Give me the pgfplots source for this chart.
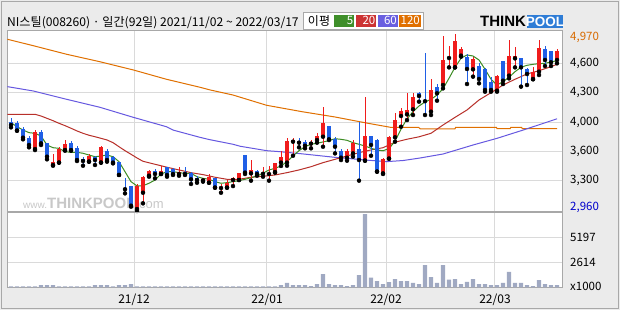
\documentclass[border=0pt]{standalone}
\usepackage{pgfplots}
\pgfplotsset{compat=1.18}
\usepackage{pgfplotstable}
\usepackage{fontspec}
\setmainfont{Noto Sans CJK KR}
\newfontfamily\logofont{Liberation Sans}
\definecolor{bgc}{HTML}{EBEBEB}
\definecolor{framec}{HTML}{A8A8A8}
\definecolor{gridc}{HTML}{DADADA}
\definecolor{cUp}{HTML}{F01C1C}
\definecolor{cDn}{HTML}{1F5FE6}
\definecolor{maA}{HTML}{3C8C23}
\definecolor{maB}{HTML}{B8302A}
\definecolor{maC}{HTML}{6658E0}
\definecolor{maD}{HTML}{E07000}
\definecolor{volc}{HTML}{A0A9C2}
\definecolor{lgA}{HTML}{3F8F2A}
\definecolor{lgB}{HTML}{CC3333}
\definecolor{lgC}{HTML}{6A5FE0}
\definecolor{lgD}{HTML}{E07000}
\definecolor{tpblue}{HTML}{2F7DD6}
\definecolor{lblor}{HTML}{D86A00}
\definecolor{lblbl}{HTML}{0000CC}
\definecolor{wmc}{HTML}{C8C8C8}

\pgfplotstableread{
i O H L C
4 3659 3870 3648 3852
7 3482 3604 3474 3511
8 3508 3685 3508 3659
9 3648 3759 3641 3715
13 3519 3604 3519 3582
15 3508 3693 3508 3678
21 2993 3271 2971 3252
22 3174 3363 3056 3352
23 3363 3426 3352 3419
25 3382 3471 3382 3415
28 3382 3456 3363 3400
32 3312 3334 3297 3326
33 3285 3382 3285 3352
35 3226 3267 3174 3241
36 3230 3315 3230 3278
37 3315 3352 3248 3341
38 3315 3397 3315 3389
40 3389 3537 3308 3426
42 3384 3463 3352 3397
43 3382 3471 3308 3397
44 3404 3508 3397 3500
45 3508 3641 3471 3571
46 3508 3778 3474 3748
47 3741 3778 3585 3759
50 3719 3759 3667 3741
51 3759 3833 3730 3804
52 3796 4122 3685 3944
56 3563 3656 3530 3637
57 3611 3759 3574 3722
59 3530 4233 3530 3804
62 3389 3556 3382 3548
63 3552 3804 3552 3796
64 3789 4063 3741 3981
65 4026 4111 3907 4081
66 4044 4278 3981 4093
67 4100 4285 4037 4241
70 4074 4433 4037 4315
72 4370 4914 4333 4648
73 4670 4803 4566 4685
74 4566 4937 4566 4859
75 4696 4796 4685 4770
77 4544 4685 4463 4659
81 4307 4481 4296 4470
83 4474 4870 4444 4692
84 4666 4796 4566 4692
87 4437 4566 4433 4511
88 4518 4870 4481 4777
91 4648 4766 4611 4748
}\upc

\pgfplotstableread{
i O H L C
0 3963 4000 3900 3926
1 3944 3974 3863 3863
2 3878 3900 3767 3785
3 3785 3804 3678 3704
5 3852 3870 3704 3722
6 3722 3730 3545 3574
10 3730 3748 3641 3648
11 3670 3696 3526 3537
12 3545 3574 3474 3526
14 3574 3585 3482 3537
16 3641 3656 3519 3537
17 3567 3582 3500 3508
18 3511 3519 3371 3371
19 3226 3334 3167 3213
20 3252 3252 3019 3030
24 3419 3434 3334 3382
26 3456 3463 3352 3371
27 3434 3445 3371 3382
29 3408 3463 3371 3382
30 3389 3400 3271 3323
31 3334 3363 3285 3315
34 3337 3337 3230 3230
39 3589 3589 3382 3397
41 3419 3426 3363 3382
48 3748 3778 3678 3730
49 3741 3759 3667 3696
53 3915 3915 3759 3767
54 3767 3796 3611 3685
55 3641 3656 3537 3563
58 3659 3956 3308 3537
60 3804 3804 3585 3704
61 3759 3767 3408 3408
68 4285 4296 4185 4248
69 4207 4729 4037 4190
71 4352 4381 4196 4278
76 4677 4715 4381 4548
78 4585 4611 4389 4437
79 4548 4555 4296 4315
80 4407 4463 4296 4315
82 4640 4640 4381 4418
85 4666 4666 4352 4566
86 4544 4555 4370 4492
89 4770 4803 4581 4648
90 4751 4751 4581 4622
}\dnc

\pgfplotstableread{
i v
0 3952
1 3907
2 3871
3 3841
4 3834
5 3804
6 3704
7 3674
8 3667
9 3630
10 3623
11 3623
12 3612
13 3593
14 3574
15 3582
16 3593
17 3574
18 3519
19 3408
20 3297
21 3249
22 3252
23 3279
24 3315
25 3382
26 3408
27 3408
28 3397
29 3389
30 3389
31 3352
32 3334
33 3323
34 3297
35 3279
36 3286
37 3297
38 3308
39 3323
40 3341
41 3360
42 3390
43 3427
44 3445
45 3471
46 3519
47 3582
48 3641
49 3686
50 3712
51 3723
52 3738
53 3752
54 3774
55 3767
56 3756
57 3730
58 3712
59 3693
60 3667
61 3649
62 3640
63 3665
64 3745
65 3880
66 3995
67 4074
68 4137
69 4182
70 4211
71 4259
72 4329
73 4445
74 4567
75 4667
76 4704
77 4692
78 4648
79 4545
80 4434
81 4370
82 4407
83 4456
84 4518
85 4567
86 4589
87 4600
88 4607
89 4611
90 4626
91 4641
}\mafive

\pgfplotstableread{
i v
-0.6 4045
4 4045
5 4026
6 4000
7 3974
8 3945
9 3919
10 3890
11 3860
12 3834
13 3812
14 3796
15 3778
16 3760
17 3730
18 3685
19 3641
20 3601
21 3560
22 3523
24 3490
26 3457
28 3427
30 3397
32 3375
34 3346
36 3323
38 3323
40 3346
42 3357
44 3371
46 3397
48 3427
50 3463
52 3508
54 3545
56 3582
58 3619
60 3649
62 3674
64 3735
66 3768
68 3795
70 3834
72 3926
74 4011
76 4093
78 4204
80 4285
82 4370
84 4434
86 4493
88 4529
90 4574
91 4600
}\matwenty

\pgfplotstableread{
i v
-0.6 4352
3.7 4304
9.3 4211
14.8 4123
20.4 4011
25.9 3907
27 3870
31.5 3789
33 3765
37 3712
38.2 3690
42.6 3641
44.8 3630
48.5 3606
54 3567
59.5 3535
62.6 3519
65.4 3532
68.2 3560
72 3604
77 3704
81 3778
85.4 3871
91 3995
}\masixty

\pgfplotstableread{
i v
-0.6 4878
3.7 4807
9.3 4711
14.8 4629
20.4 4537
25.9 4434
31.5 4345
33.2 4315
37 4259
42.6 4145
48.5 4074
54 4015
59.5 3945
63.2 3901
67.9 3901
68.2 3884
74 3884
74.1 3901
80.9 3901
81 3886
83.2 3886
83.3 3901
85.1 3901
85.2 3886
91 3886
}\mahund

\pgfplotstableread{
i v
0 150
1 150
2 150
3 150
4 150
5 270
6 270
7 270
8 150
9 150
10 150
11 150
12 150
13 150
14 270
15 270
16 270
17 150
18 270
19 270
20 373
21 150
22 150
23 150
24 150
25 150
26 150
27 150
28 150
29 150
30 150
31 150
32 150
33 150
34 150
35 150
36 150
37 150
38 150
39 150
40 150
41 150
42 150
43 150
44 150
45 270
46 510
47 270
48 270
49 270
50 168
51 373
52 1399
53 373
54 270
55 270
56 168
57 270
58 1296
59 7555
60 1057
61 681
62 373
63 578
64 886
65 681
66 681
67 510
68 373
69 2322
70 1091
71 510
72 2322
73 852
74 886
75 373
76 612
77 886
78 373
79 373
80 270
81 270
82 510
83 1638
84 510
85 510
86 270
87 168
88 783
89 373
90 270
91 270
}\vol

\begin{document}
\begin{tikzpicture}
% background and frame
\fill[bgc] (0pt,0pt) rectangle (620pt,310pt);
\draw[framec, line width=1pt] (1.5pt,1.7pt) rectangle (618.5pt,308.3pt);
% panels
\fill[white] (7pt,22.5pt) rectangle (562pt,279pt);
% watermark
\node[anchor=base west, inner sep=0pt, text=wmc] at (23pt,101pt)
  {\logofont{\fontsize{10}{10}\selectfont www.}{\fontsize{15}{15}\selectfont\bfseries THINKPOOL}{\fontsize{13}{13}\selectfont .com}};

% price panel
\begin{axis}[
  at={(7pt,98pt)}, anchor=south west,
  width=555pt, height=181pt, scale only axis,
  xmin=-0.667, xmax=91.833, ymin=2960, ymax=4970,
  axis line style={framec, line width=1pt},
  xtick={20.5,42.5,62.5,80.5}, xticklabels={},
  ytick={3308,3630,3956,4289,4611}, yticklabels={},
  major tick length=0pt,
  grid=major, grid style={gridc, line width=1pt},
  clip=true,
]
\addplot[maD, line width=1pt, mark=none] table[x=i, y=v] \mahund;
\addplot[maC, line width=1pt, mark=none] table[x=i, y=v] \masixty;
\addplot[maB, line width=1pt, mark=none] table[x=i, y=v] \matwenty;
\addplot[maA, line width=1pt, mark=none] table[x=i, y=v] \mafive;
% wicks
\addplot[only marks, mark=none, error bars/.cd, y dir=plus, y explicit, error mark=none,
  error bar style={cUp, line width=1pt}]
  table[x=i, y=L, y error plus expr={\thisrow{H}-\thisrow{L}}] \upc;
\addplot[only marks, mark=none, error bars/.cd, y dir=plus, y explicit, error mark=none,
  error bar style={cDn, line width=1pt}]
  table[x=i, y=L, y error plus expr={\thisrow{H}-\thisrow{L}}] \dnc;
% bodies
\addplot[only marks, mark=none, error bars/.cd, y dir=plus, y explicit, error mark=none,
  error bar style={cUp, line width=4.6pt}]
  table[x=i, y=O, y error plus expr={\thisrow{C}-\thisrow{O}}] \upc;
\addplot[only marks, mark=none, error bars/.cd, y dir=plus, y explicit, error mark=none,
  error bar style={cDn, line width=4.6pt}]
  table[x=i, y=C, y error plus expr={\thisrow{O}-\thisrow{C}}] \dnc;
\end{axis}

% volume panel
\begin{axis}[
  at={(7pt,22.5pt)}, anchor=south west,
  width=555pt, height=75.5pt, scale only axis,
  xmin=-0.667, xmax=91.833, ymin=31, ymax=7780,
  axis line style={framec, line width=1pt},
  xtick={20.5,42.5,62.5,80.5}, xticklabels={},
  ytick={2614,5197}, yticklabels={},
  major tick length=0pt,
  grid=major, grid style={gridc, line width=1pt},
  clip=true,
]
\addplot[ybar, bar width=0.72, fill=volc, draw=none] table[x=i, y=v] \vol;
\end{axis}

% right labels
\begin{scope}[every node/.style={anchor=west, inner sep=0pt}]
\node[text=lblor] at (570pt,273pt) {\fontsize{11.5}{12}\selectfont 4,970};
\node at (570pt,246.7pt) {\fontsize{11.5}{12}\selectfont 4,600};
\node at (570pt,217.7pt) {\fontsize{11.5}{12}\selectfont 4,300};
\node at (570pt,187.7pt) {\fontsize{11.5}{12}\selectfont 4,000};
\node at (570pt,158.3pt) {\fontsize{11.5}{12}\selectfont 3,600};
\node at (570pt,129.3pt) {\fontsize{11.5}{12}\selectfont 3,300};
\node[text=lblbl] at (570pt,103pt) {\fontsize{11.5}{12}\selectfont 2,960};
\node at (570pt,72.5pt) {\fontsize{11.5}{12}\selectfont 5197};
\node at (570pt,47.5pt) {\fontsize{11.5}{12}\selectfont 2614};
\node at (570pt,24pt) {\fontsize{11.5}{12}\selectfont x1000};
\end{scope}
% bottom labels
\begin{scope}[every node/.style={anchor=center, inner sep=0pt}]
\node at (134pt,10pt) {\fontsize{12}{12}\selectfont 21/12};
\node at (267pt,10pt) {\fontsize{12}{12}\selectfont 22/01};
\node at (386pt,10pt) {\fontsize{12}{12}\selectfont 22/02};
\node at (495pt,10pt) {\fontsize{12}{12}\selectfont 22/03};
\end{scope}

% title
\node[anchor=base west, inner sep=0pt] at (7pt,283pt)
  {\fontsize{12.1}{12.1}\selectfont NI스틸(008260) · 일간(92일) 2021/11/02 \textasciitilde{} 2022/03/17};

% MA legend box
\draw[framec, fill=white, line width=1pt] (303.3pt,280.7pt) rectangle (423.3pt,297.7pt);
\node[anchor=center, inner sep=0pt] at (319pt,289.2pt) {\fontsize{12}{12}\selectfont 이평};
\fill[lgA] (334.3pt,283.3pt) rectangle (354.3pt,295pt);
\fill[lgB] (355.7pt,283.3pt) rectangle (376pt,295pt);
\fill[lgC] (377.7pt,283.3pt) rectangle (397.7pt,295pt);
\fill[lgD] (399pt,283.3pt) rectangle (420.5pt,295pt);
\begin{scope}[every node/.style={anchor=east, inner sep=0pt, text=white}]
\node at (353.5pt,289.2pt) {\fontsize{11.5}{12}\selectfont 5};
\node at (375.5pt,289.2pt) {\fontsize{11.5}{12}\selectfont 20};
\node at (397pt,289.2pt) {\fontsize{11.5}{12}\selectfont 60};
\node at (420pt,289.2pt) {\fontsize{11.5}{12}\selectfont 120};
\end{scope}

% logo
\node[anchor=base west, inner sep=0pt] at (480pt,283pt)
  {\logofont\bfseries\fontsize{15}{15}\selectfont THINK};
\fill[tpblue] (527pt,281.7pt) rectangle (563pt,295pt);
\node[anchor=base, inner sep=0pt, text=white] at (545pt,283pt)
  {\logofont\bfseries\fontsize{13.5}{13.5}\selectfont POOL};
\end{tikzpicture}
\end{document}
